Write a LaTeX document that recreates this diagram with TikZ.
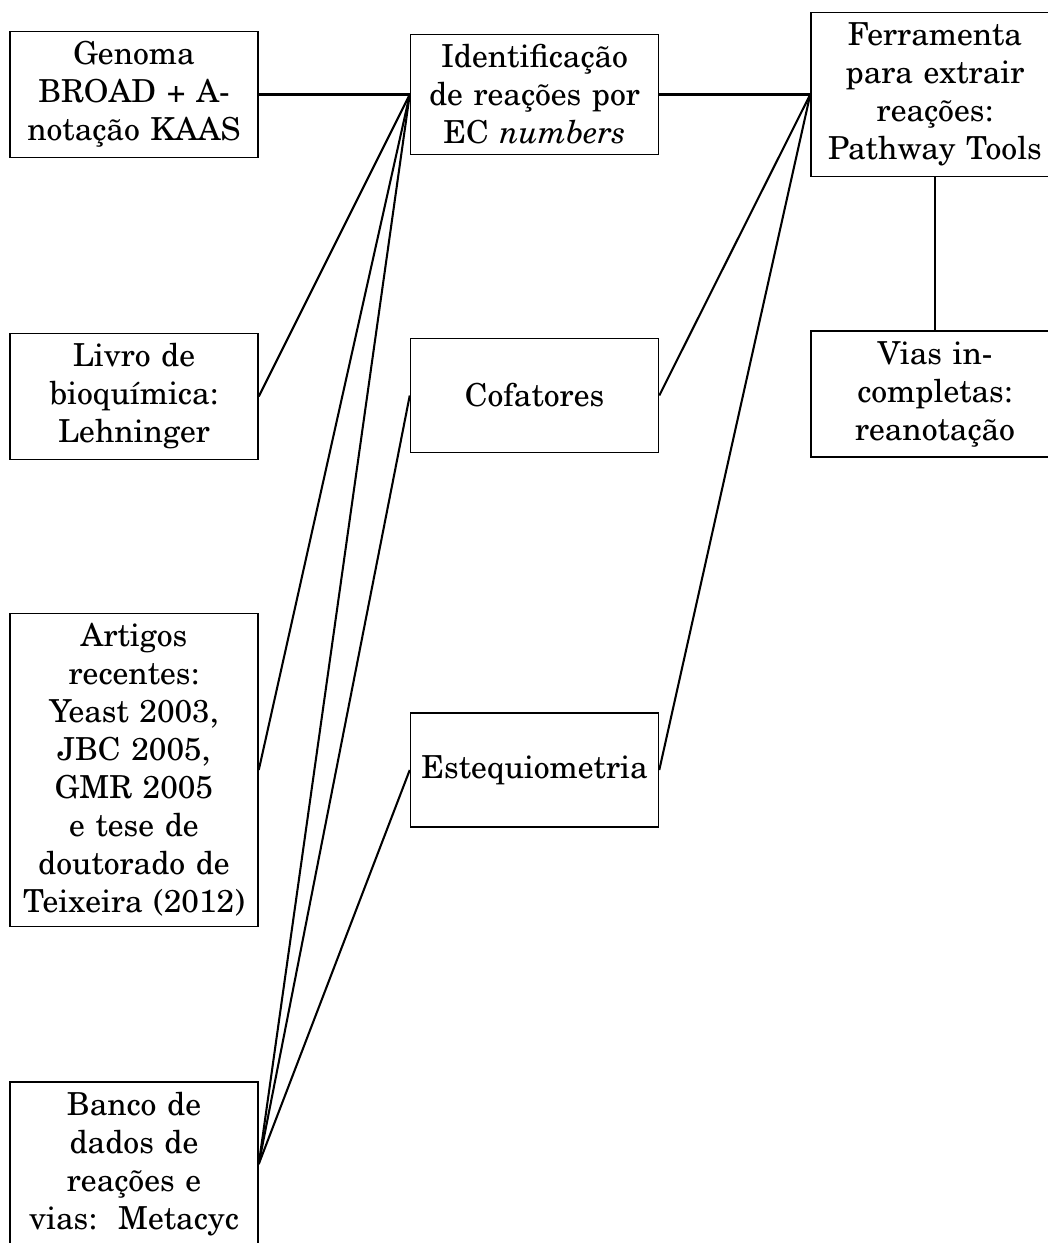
\documentclass[tikz,border=0pt]{standalone}
\usepackage[T1]{fontenc}
\usepackage{newcent}
\begin{document}
\begin{tikzpicture}[x=0.316pt,y=-0.316pt,
  box/.style={draw, line width=0.45pt, align=center, text width=78.4pt,
    inner xsep=0pt, inner ysep=3.2pt, minimum height=36pt,
    font=\fontsize{10}{12}\selectfont},
  link/.style={line width=0.65pt}]
\useasboundingbox (0,0) rectangle (1048,1243);
\clip (0,0) rectangle (1048,1243);

% sources
\node[box] (g) at (134,94.5) {Genoma\\BROAD + A-\\nota\c{c}\~ao KAAS};
\node[box] (l) at (134,396.5) {Livro de\\bioqu\'{\i}mica:\\Lehninger};
\node[box] (a) at (134,770) {Artigos\\recentes:\\Yeast 2003,\\JBC 2005,\\GMR 2005\\e tese de\\doutorado de\\Teixeira (2012)};
\node[box] (b) at (134,1164) {Banco de\\dados de\\rea\c{c}\~oes e\\vias:\ \ Metacyc};

% processing steps
\node[box] (id) at (534.5,94.5) {Identifica\c{c}\~ao\\de rea\c{c}\~oes por\\EC \textit{numbers}};
\node[box] (co) at (534.5,395.5) {Cofatores};
\node[box] (es) at (534.5,770) {Estequiometria};

% tool and follow-up
\node[box] (fe) at (935,94.5) {Ferramenta\\para extrair\\rea\c{c}\~oes:\\Pathway Tools};
\node[box] (vi) at (935,394) {Vias in-\\completas:\\reanota\c{c}\~ao};

% connectors
\draw[link] (g.east) -- (id.west);
\draw[link] (l.east) -- (id.west);
\draw[link] (a.east) -- (id.west);
\draw[link] (b.east) -- (id.west);
\draw[link] (b.east) -- (co.west);
\draw[link] (b.east) -- (es.west);
\draw[link] (id.east) -- (fe.west);
\draw[link] (co.east) -- (fe.west);
\draw[link] (es.east) -- (fe.west);
\draw[link] (fe.south) -- (vi.north);
\end{tikzpicture}
\end{document}
